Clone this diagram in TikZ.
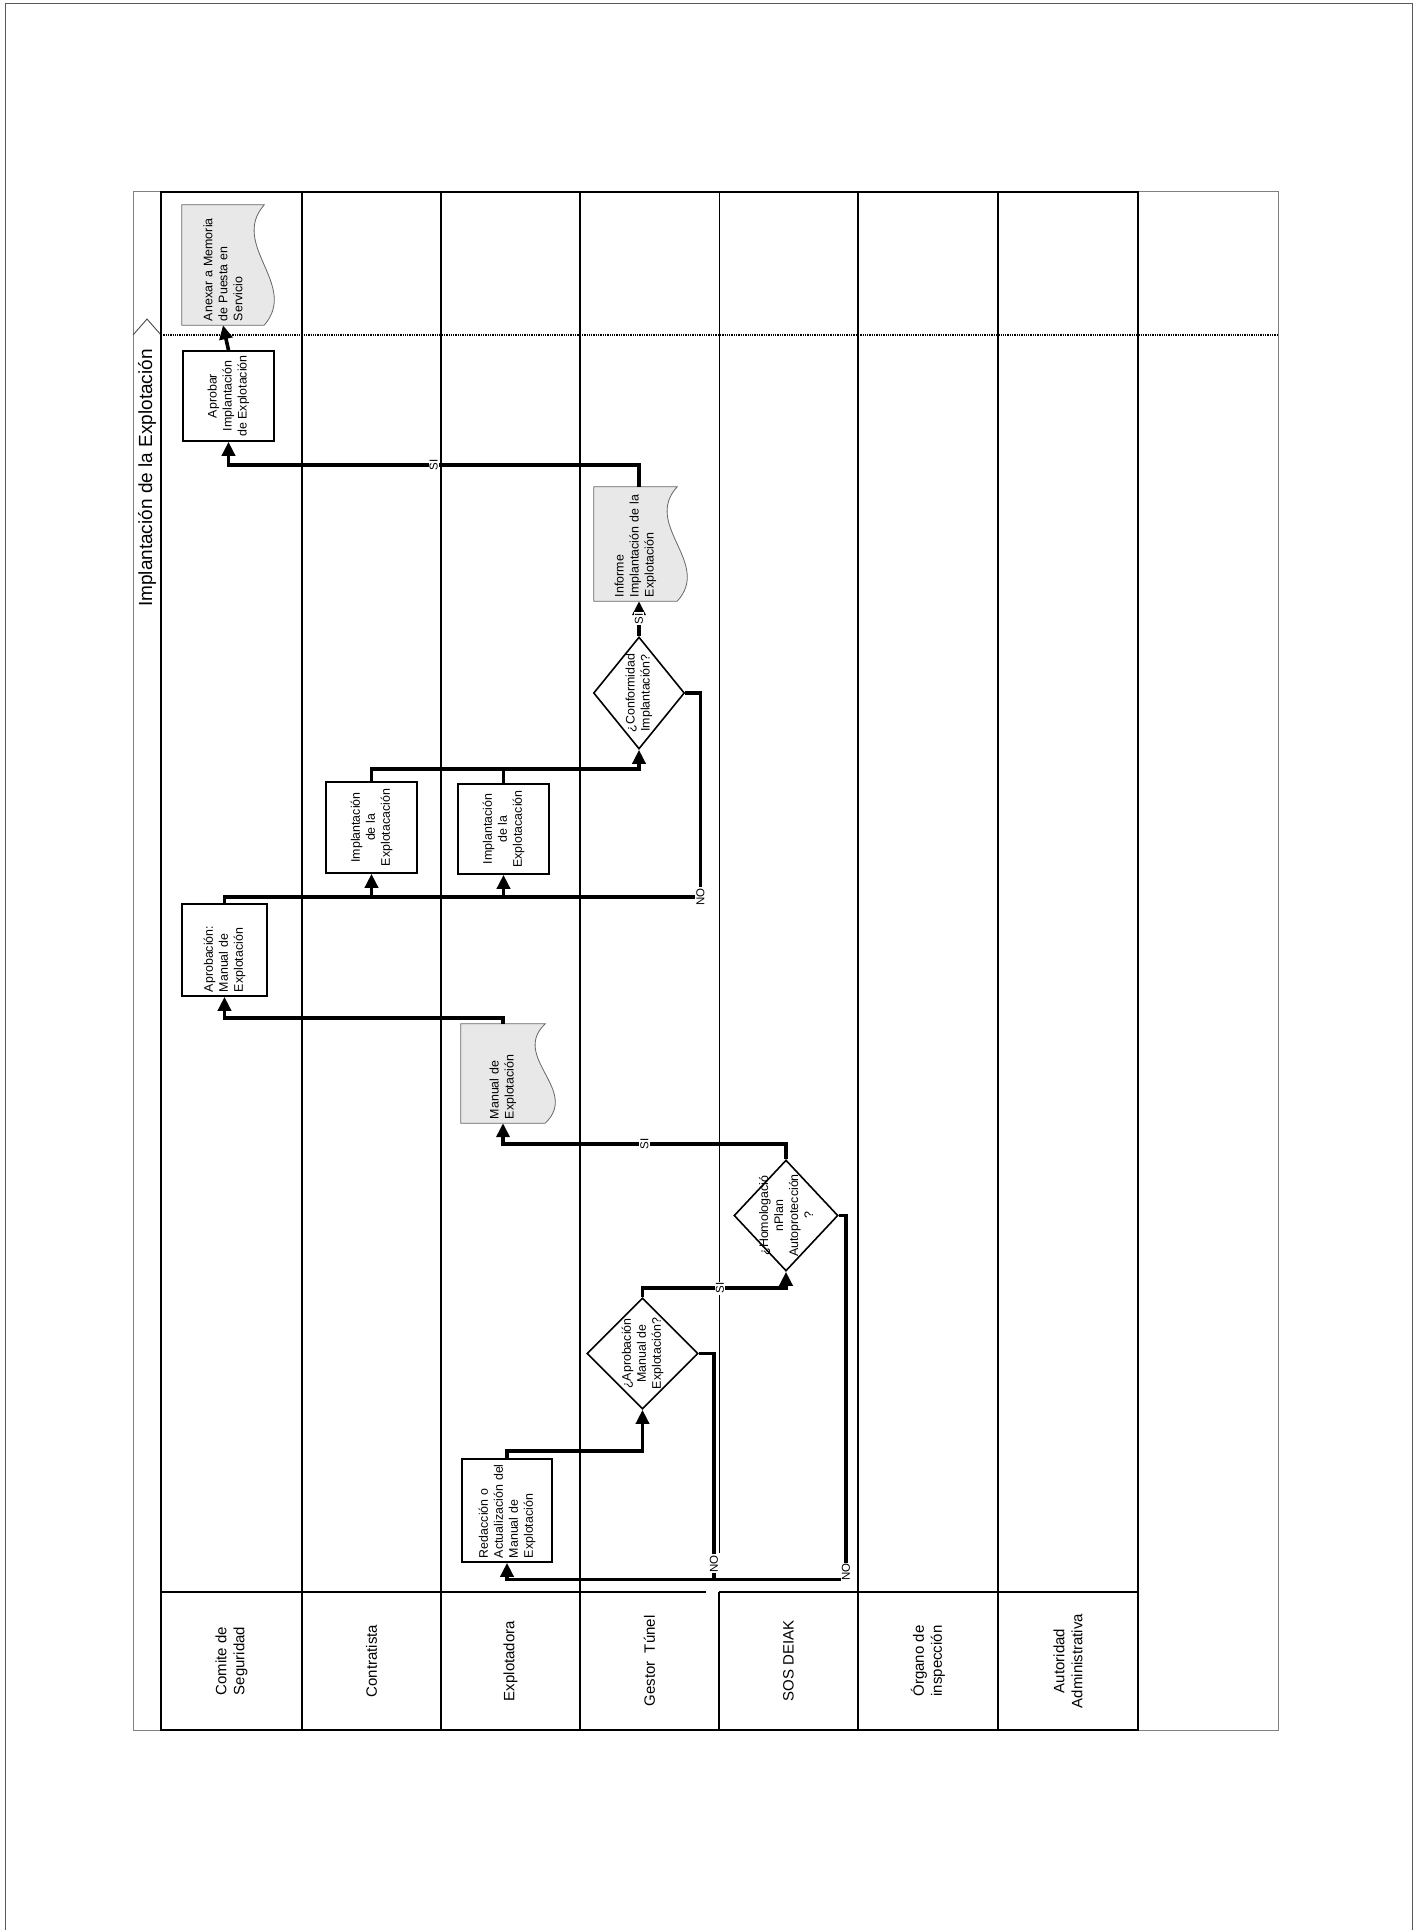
\documentclass[tikz,border=0pt]{standalone}
\usepackage{fontspec}
\setmainfont{Liberation Sans}
\usetikzlibrary{arrows.meta,calc,shapes.geometric,backgrounds}

\begin{document}
\begin{tikzpicture}[x=1pt,y=-1pt,line join=miter,
  font=\fontsize{12.4}{15}\selectfont,
  lane/.style={line width=1.7pt},
  pool/.style={gray,line width=.9pt},
  flow/.style={line width=3.6pt,-{Triangle[length=14pt,width=13pt]}},
  wire/.style={line width=3.6pt},
  box/.style={draw,line width=1.6pt,rotate=90,align=center,inner sep=4pt},
  lbox/.style={box,align=left,text width=#1},
  doc/.style={rotate=90,align=left,inner sep=4pt,text width=#1},
  docline/.style={draw=gray!80!black,fill=gray!18,line width=.8pt},
  cond/.style={diamond,draw,line width=1.6pt,inner sep=0pt},
  condtxt/.style={rotate=90,align=center},
  lab/.style={fill=white,inner sep=1pt,rotate=90,font=\fontsize{11.5}{13}\selectfont},
  hdr/.style={rotate=90,align=center,font=\fontsize{15}{18}\selectfont}]
  \useasboundingbox (0,0) rectangle (1417,1930);
  \draw[gray!70!black,line width=1pt] (5,1930) -- (5,3) -- (1412,3) -- (1412,1930);
  % pool, title band and lanes
  \draw[pool] (133,191) rectangle (1278,1730);
  \draw[pool,gray!60!black] (133,335) -- (147,319) -- (161,335);
  \node[rotate=90,font=\fontsize{19}{23}\selectfont] (title) at (147,478) {Implantación de la Explotación};
  \draw[lane] (161,192) rectangle (1138,1730);
  \foreach \x in {302,441,580,858,998}
    \draw[lane] (\x,192) -- (\x,1730);
  \draw[lane,line width=.9pt] (719,192) -- (719,1553);
  \draw[lane] (719,1592) -- (719,1730);
  \draw[lane] (161,1592) -- (706,1592) (719,1592) -- (1138,1592);
  \draw[line width=1.3pt,dash pattern=on 1.3pt off 1pt] (161,335) -- (1278,335);
  \foreach \i/\x/\t in {1/231.5/{Comite de\\Seguridad},2/371.5/Contratista,
      3/510.5/Explotadora,4/649.5/{Gestor\ \ Túnel},5/788.5/SOS DEIAK,
      6/928/{Órgano de\\inspección},7/1068/{Autoridad\\Administrativa}}
    \node[hdr] (hdr\i) at (\x,1661) {\t};

  % rotated nodes: .east is the top side, .west the bottom side
  \node[doc=112pt,minimum height=82pt] (anexar) at (223,265) {Anexar a Memoria\\de Puesta en\\Servicio};
  \node[box,minimum width=90pt,minimum height=91pt] (aprobar) at (228.5,396) {Aprobar\\Implantación\\de Explotación};
  \node[doc=106pt,minimum height=83pt] (informe) at (635.5,544) {Informe\\Implantación de la\\Explotación};
  \node[cond,minimum width=91pt,minimum height=112pt,
    label={[condtxt]center:{¿Conformidad\\Implantación?}}] (conf) at (639,693) {};
  \node[box,minimum width=91pt,minimum height=91pt] (impl1) at (371.5,827.5) {Implantación\\de la\\Explotacación};
  \node[box,minimum width=90pt,minimum height=91pt] (impl2) at (503.5,829) {Implantación\\de la\\Explotacación};
  \node[lbox=84pt,minimum height=85pt] (aprobacion) at (224.5,950) {Aprobación:\\Manual de\\Explotación};
  \node[doc=91pt,minimum height=84pt] (manual) at (503,1073.5) {Manual de\\Explotación};
  \node[cond,minimum width=104pt,minimum height=111pt,
    label={[condtxt]center:{¿Homologació\\nPlan\\Autoprotección\\?}}] (homolog) at (786,1215.5) {};
  \node[cond,minimum width=111pt,minimum height=111pt,
    label={[condtxt]center:{¿Aprobación\\Manual de\\Explotación?}}] (aprobd) at (642.5,1353.5) {};
  \node[lbox=95pt,minimum height=90pt] (redaccion) at (507,1510.5) {Redacción o\\Actualización del\\Manual de\\Explotación};

  \begin{scope}[on background layer]
    \foreach \d in {anexar,informe,manual}
      \draw[docline] (\d.north west) -- (\d.north east) -- (\d.south east)
        .. controls ($(\d.south east)!.333!(\d.south west)+(-35,0)$)
        and ($(\d.south east)!.667!(\d.south west)+(35,0)$) .. (\d.south west) -- cycle;
  \end{scope}

  % connectors
  \draw[flow] (aprobar.east) -- (anexar.west);
  \draw[flow] (informe.east -| conf.north) -- ++(0,-22) -| node[lab,pos=.25] {SI} (aprobar.west);
  \draw[flow] (conf.north) -- node[lab] {SI} (conf.north |- informe.west);
  \draw[wire] (conf.east) -- ++(15,0) -- node[lab,pos=1] {NO} ++(0,204) coordinate (nobus) -| (aprobacion.east);
  \draw[flow] (nobus -| impl1.west) -- (impl1.west);
  \draw[flow] (nobus -| impl2.west) -- (impl2.west);
  \draw[flow] (impl1.east) -- ++(0,-12) coordinate (implbus) -| (conf.south);
  \draw[wire] (impl2.east) -- (impl2.east |- implbus);
  \draw[flow] (manual.east) -- ++(0,-6) -| (aprobacion.west);
  \draw[flow] (homolog.north) -- ++(0,-15) -| node[lab,pos=.25] {SI} (manual.west);
  \draw[flow] (aprobd.north) -- ++(0,-9) -| node[lab,pos=.27] {SI} (homolog.south);
  \draw[flow] (redaccion.east) -- ++(0,-7) -| (aprobd.south);
  \draw[wire] (aprobd.east) -- ++(15,0) coordinate (nocorner) -- ++(0,226) coordinate (nobus2);
  \draw[flow] (homolog.east) -- ++(7,0) -- node[lab,pos=.98] {NO} ++(0,364) -| (redaccion.west);
  \node[lab] (no1) at ($(nocorner)!.93!(nobus2)$) {NO};
\end{tikzpicture}
\end{document}
